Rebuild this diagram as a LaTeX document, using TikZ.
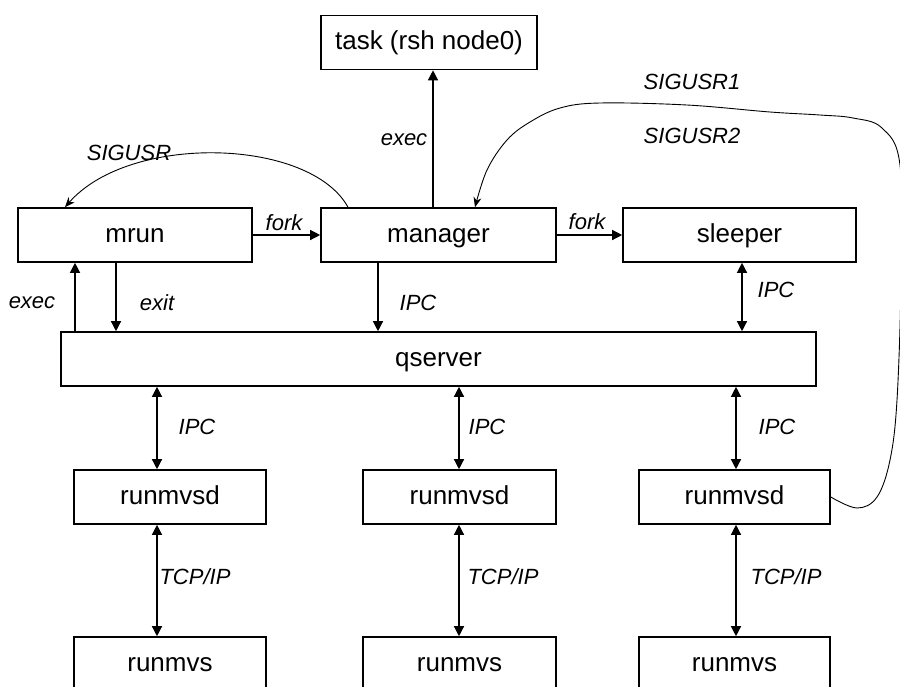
\documentclass[tikz,border=0pt]{standalone}
\usepackage{fontspec}
\setmainfont{Liberation Sans}
\usetikzlibrary{arrows.meta}
\begin{document}
\begin{tikzpicture}[x=1pt,y=-1pt,
  box/.style={draw, line width=1.6pt, rectangle, minimum height=54pt,
    inner sep=0pt, text height=19pt, text depth=5pt,
    font=\fontsize{26}{30}\selectfont},
  lbl/.style={font=\fontsize{22}{26}\selectfont\itshape, inner sep=0pt},
  arr/.style={line width=1.3pt, -{Triangle[length=10pt,width=10pt]}},
  biarr/.style={line width=1.3pt,
    {Triangle[length=10pt,width=10pt]}-{Triangle[length=10pt,width=10pt]}},
  sig/.style={line width=0.9pt, -{Stealth[length=10pt,width=8pt]}}]

\useasboundingbox (0,0) rectangle (900,686);

% processes
\node[box, minimum width=216pt] (task)    at (429,42.5) {task (rsh node0)};
\node[box, minimum width=234pt] (mrun)    at (135,235)  {mrun};
\node[box, minimum width=235pt] (manager) at (438.5,235) {manager};
\node[box, minimum width=233pt] (sleeper) at (739.5,235) {sleeper};
\node[box, minimum width=755pt] (qserver) at (438.5,359) {qserver};
\node[box, minimum width=192pt] (rd1) at (170,497)   {runmvsd};
\node[box, minimum width=193pt] (rd2) at (459.5,497) {runmvsd};
\node[box, minimum width=191pt] (rd3) at (734.5,497) {runmvsd};
\node[box, minimum width=192pt] (rv1) at (170,664)   {runmvs};
\node[box, minimum width=193pt] (rv2) at (459.5,664) {runmvs};
\node[box, minimum width=191pt] (rv3) at (734.5,664) {runmvs};

% columns used by the vertical connectors
\coordinate (xexec)  at (75,0);
\coordinate (xexit)  at (116,0);
\coordinate (xipc)   at (378,0);
\coordinate (xtask)  at (433,0);
\coordinate (xsleep) at (742,0);
\coordinate (xc1)    at (157,0);
\coordinate (xc2)    at (459,0);
\coordinate (xc3)    at (736,0);
\coordinate (xsigA)  at (348,0);
\coordinate (xsigB)  at (65,0);
\coordinate (xsigC)  at (475,0);

% connectors
\draw[arr] (manager.north -| xtask) -- (task.south -| xtask);
\draw[arr] (mrun.east) -- (manager.west);
\draw[arr] (manager.east) -- (sleeper.west);
\draw[arr] (qserver.north -| xexec) -- (mrun.south -| xexec);
\draw[arr] (mrun.south -| xexit) -- (qserver.north -| xexit);
\draw[arr] (manager.south -| xipc) -- (qserver.north -| xipc);
\draw[biarr] (sleeper.south -| xsleep) -- (qserver.north -| xsleep);
\draw[biarr] (qserver.south -| xc1) -- (rd1.north -| xc1);
\draw[biarr] (qserver.south -| xc2) -- (rd2.north -| xc2);
\draw[biarr] (qserver.south -| xc3) -- (rd3.north -| xc3);
\draw[biarr] (rd1.south -| xc1) -- (rv1.north -| xc1);
\draw[biarr] (rd2.south -| xc2) -- (rv2.north -| xc2);
\draw[biarr] (rd3.south -| xc3) -- (rv3.north -| xc3);

% signals
\draw[sig] (manager.north -| xsigA) .. controls (310,138) and (130,133) .. (mrun.north -| xsigB);
\draw[sig] plot[smooth, tension=0.6] coordinates {(rd3.east) (857,508) (877,497)
  (890,460) (897,400) (901,280) (900,165) (882,128) (853,118) (820,115) (770,112)
  (687,105) (600,103) (560,108) (530,122) (507,140) (487,170) (manager.north -| xsigC)};

% labels
\node[lbl] (lexec)  at (404,140) {exec};
\node[lbl] (lfork1) at (284,223) {fork};
\node[lbl] (lfork2) at (587,222) {fork};
\node[lbl] (lsig)   at (129,153) {SIGUSR};
\node[lbl] (lsig1)  at (692,82)  {SIGUSR1};
\node[lbl] (lsig2)  at (692,136) {SIGUSR2};
\node[lbl] (lexec2) at (32,303)  {exec};
\node[lbl] (lexit)  at (157,303) {exit};
\node[lbl] (lipc0)  at (418,303) {IPC};
\node[lbl] (lipcs)  at (776,290) {IPC};
\node[lbl] (lipc1)  at (197,427) {IPC};
\node[lbl] (lipc2)  at (487,427) {IPC};
\node[lbl] (lipc3)  at (777,427) {IPC};
\node[lbl] (ltcp1)  at (195,577) {TCP/IP};
\node[lbl] (ltcp2)  at (503,577) {TCP/IP};
\node[lbl] (ltcp3)  at (786,577) {TCP/IP};
\end{tikzpicture}
\end{document}
